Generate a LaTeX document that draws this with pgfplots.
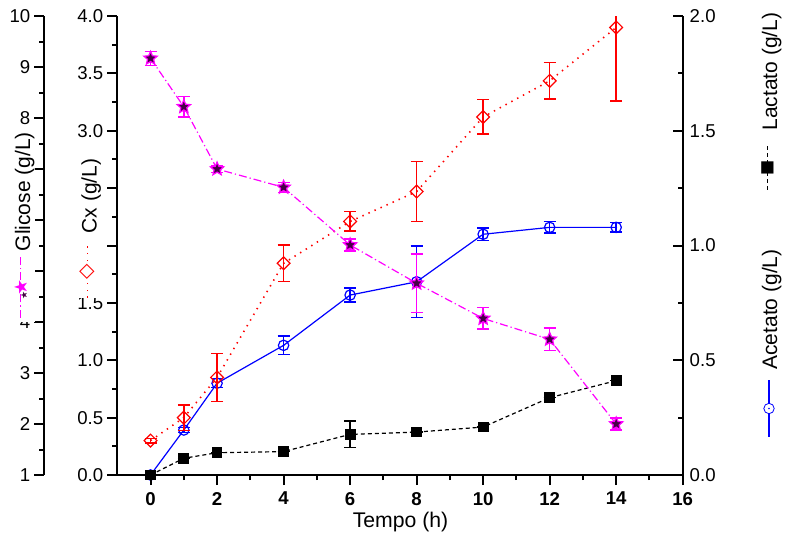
\documentclass[border=0pt]{standalone}
\usepackage{fontspec}
\setmainfont{Liberation Sans}
\newfontfamily\dejavu{DejaVu Sans}
\usepackage{pgfplots}
\pgfplotsset{compat=1.18}
\usepackage{pgfplotstable}

\definecolor{mag}{RGB}{255,0,255}
\definecolor{starfill}{RGB}{70,0,70}

\pgfdeclareplotmark{fstar}{%
  \pgfpathmoveto{\pgfpointpolar{90}{\pgfplotmarksize}}%
  \pgfpathlineto{\pgfpointpolar{126}{0.45\pgfplotmarksize}}%
  \pgfpathlineto{\pgfpointpolar{162}{\pgfplotmarksize}}%
  \pgfpathlineto{\pgfpointpolar{198}{0.45\pgfplotmarksize}}%
  \pgfpathlineto{\pgfpointpolar{234}{\pgfplotmarksize}}%
  \pgfpathlineto{\pgfpointpolar{270}{0.45\pgfplotmarksize}}%
  \pgfpathlineto{\pgfpointpolar{306}{\pgfplotmarksize}}%
  \pgfpathlineto{\pgfpointpolar{342}{0.45\pgfplotmarksize}}%
  \pgfpathlineto{\pgfpointpolar{18}{\pgfplotmarksize}}%
  \pgfpathlineto{\pgfpointpolar{54}{0.45\pgfplotmarksize}}%
  \pgfpathclose
  \pgfusepathqfillstroke}
\pgfdeclareplotmark{codot}{%
  \pgfpathcircle{\pgfpointorigin}{\pgfplotmarksize}\pgfusepathqstroke
  \pgfpathcircle{\pgfpointorigin}{0.18\pgfplotmarksize}\pgfusepathqfill}
\pgfdeclareplotmark{rdiam}{%
  \pgfpathmoveto{\pgfqpoint{0pt}{\pgfplotmarksize}}%
  \pgfpathlineto{\pgfqpoint{\pgfplotmarksize}{0pt}}%
  \pgfpathlineto{\pgfqpoint{0pt}{-\pgfplotmarksize}}%
  \pgfpathlineto{\pgfqpoint{-\pgfplotmarksize}{0pt}}%
  \pgfpathclose\pgfusepathqstroke}

\pgfplotstableread{
t v e
0 9.17 0.14
1 8.22 0.20
2 7.00 0.07
4 6.64 0.10
6 5.51 0.12
8 4.76 0.57
10 4.07 0.21
12 3.66 0.22
14 2.00 0.12
}\glic
\pgfplotstableread{
t v e
0 0.30 0.02
1 0.50 0.11
2 0.85 0.21
4 1.845 0.16
6 2.21 0.085
8 2.47 0.26
10 3.12 0.15
12 3.435 0.16
14 3.90 0.64
}\cx
\pgfplotstableread{
t v e
0 0.000 0.0
1 0.196 0.01
2 0.400 0.02
4 0.565 0.04
6 0.784 0.03
8 0.842 0.155
10 1.049 0.028
12 1.079 0.025
14 1.079 0.02
}\acet
\pgfplotstableread{
t v e
0 0.000 0.0
1 0.073 0.0
2 0.097 0.0
4 0.102 0.0
6 0.177 0.058
8 0.187 0.0
10 0.209 0.0
12 0.337 0.0
14 0.411 0.0
}\lact

\pgfplotsset{
  base/.style={
    scale only axis, height=229.5bp, anchor=south west,
    axis line style={line width=1bp},
    tick style={line width=1bp, black},
    major tick length=5bp, minor tick length=2.5bp,
    tick align=outside,
    ticklabel style={font=\fontsize{9.3bp}{11bp}\selectfont},
    /pgf/number format/assume math mode=true,
    error bars/error bar style={line width=0.7bp, solid},
    error bars/error mark options={rotate=90, mark size=3bp, line width=0.7bp, solid},
  },
  onedec/.style={yticklabel style={/pgf/number format/fixed, /pgf/number format/fixed zerofill, /pgf/number format/precision=1}},
}

% key pieces set as text inside the rotated axis titles
\newcommand{\kd}[2]{\rule[4.3bp]{#1}{#2}}
\newcommand{\km}[2]{\makebox[#1]{\raisebox{2bp}{$\vcenter{\hbox{#2}}$}}}
\newcommand{\keyglic}{\textcolor{mag}{\kd{4bp}{0.6bp}\hspace{1.5bp}\kd{0.6bp}{0.6bp}\hspace{1.5bp}\kd{4bp}{0.6bp}%
  \km{7bp}{\dejavu\fontsize{9bp}{9bp}\selectfont\rlap{★}\hbox to 0pt{\hss\textcolor{starfill}{\fontsize{4.5bp}{4.5bp}\selectfont ★}\hss}\phantom{★}}%
  \kd{4bp}{0.6bp}\hspace{1.5bp}\kd{0.6bp}{0.6bp}\hspace{1.5bp}\kd{4bp}{0.6bp}}}
\newcommand{\keycx}{\textcolor{red}{\kd{0.7bp}{0.8bp}\hspace{2.6bp}\kd{0.7bp}{0.8bp}\hspace{2.6bp}\kd{0.7bp}{0.8bp}\hspace{2.3bp}%
  \km{6.4bp}{\dejavu\fontsize{10bp}{10bp}\selectfont ◇}%
  \hspace{2.3bp}\kd{0.7bp}{0.8bp}\hspace{2.6bp}\kd{0.7bp}{0.8bp}\hspace{2.6bp}\kd{0.7bp}{0.8bp}}}
\newcommand{\keylact}{\kd{2bp}{0.6bp}\hspace{1.5bp}\kd{2bp}{0.6bp}\hspace{1.5bp}\kd{1.3bp}{0.6bp}\hspace{0.3bp}%
  \km{4.8bp}{\dejavu\fontsize{8bp}{8bp}\selectfont ■}%
  \hspace{0.3bp}\kd{1.3bp}{0.6bp}\hspace{1.5bp}\kd{2bp}{0.6bp}\hspace{1.5bp}\kd{2bp}{0.6bp}}

\begin{document}
\begin{tikzpicture}
\useasboundingbox (0,0) rectangle (393bp,-274bp);

% right axis: Lactato / Acetato
\begin{axis}[base, onedec, at={(58.65bp,-237.5bp)}, width=282.7bp,
  xmin=-1, xmax=16, ymin=0, ymax=2, hide x axis, axis y line*=right,
  tick align=inside, ytick={0,0.5,1,1.5,2}, minor y tick num=1]
\addplot[blue, line width=0.6bp, mark=codot, mark size=2.6bp,
  mark options={solid, fill=blue},
  error bars/.cd, y dir=both, y explicit] table[x=t, y=v, y error=e] {\acet};
\addplot[black, line width=0.6bp, dash pattern=on 2bp off 1.5bp, mark=square*, mark size=2.4bp,
  mark options={solid},
  error bars/.cd, y dir=both, y explicit] table[x=t, y=v, y error=e] {\lact};
\end{axis}

% main axis: Cx
\begin{axis}[base, onedec, at={(58.65bp,-237.5bp)}, width=282.7bp,
  xmin=-1, xmax=16, ymin=0, ymax=4, axis x line*=bottom, axis y line*=left,
  xtick={0,2,...,16}, minor x tick num=1,
  ytick={0,0.5,1,1.5,2,2.5,3,3.5,4}, minor y tick num=1,
  yticklabel style={xshift=1.5bp},
  xticklabel style={font=\bfseries\fontsize{9.3bp}{11bp}\selectfont}]
\addplot[red, line width=0.8bp, dash pattern=on 0.7bp off 2.6bp, mark=rdiam, mark size=3.2bp,
  mark options={solid, line width=0.6bp},
  error bars/.cd, y dir=both, y explicit] table[x=t, y=v, y error=e] {\cx};
\end{axis}

% Glicose axis
\begin{axis}[base, at={(22.15bp,-237.5bp)}, width=319.2bp,
  xmin=-3.195, xmax=16, ymin=1, ymax=10, hide x axis, axis y line*=left,
  yticklabel style={xshift=1.5bp},
  ytick={1,...,10}, minor y tick num=1]
\addplot[mag, line width=0.6bp, dash pattern=on 4bp off 1.5bp on 0.6bp off 1.5bp,
  mark=fstar, mark size=3.5bp, mark options={solid, draw=mag, fill=starfill, line width=0.6bp},
  error bars/.cd, y dir=both, y explicit] table[x=t, y=v, y error=e] {\glic};
\end{axis}

% axis titles with their series keys (white boxes hide the tick labels behind them, as in the original)
\node[rotate=90, anchor=base west, fill=white, inner xsep=2bp, inner ysep=0.3bp,
  font=\fontsize{10.5bp}{12bp}\selectfont] at (15bp,-161bp)
  {\keyglic\hspace{3bp}Glicose (g/L)\hspace{6bp}};
\node[rotate=90, anchor=base west, fill=white, inner xsep=0bp, inner ysep=2.5bp,
  font=\fontsize{10.5bp}{12bp}\selectfont] at (48.35bp,-149bp)
  {\keycx\hspace{6.5bp}Cx (g/L)\hspace{6bp}};
\node[rotate=90, anchor=base west, inner sep=0bp,
  font=\fontsize{10.5bp}{12bp}\selectfont] at (388.5bp,-95bp) {\keylact\hspace{7.5bp}Lactato (g/L)};
\node[rotate=90, anchor=base west, inner sep=0bp,
  font=\fontsize{10.5bp}{12bp}\selectfont] at (388.5bp,-185bp) {Acetato (g/L)};
\node[anchor=base, font=\fontsize{10.6bp}{12bp}\selectfont] at (200.25bp,-263.5bp) {Tempo (h)};

% Acetato key
\path[blue] plot[mark=codot, mark size=2.6bp, mark options={fill=blue}] coordinates {(384.5bp,-204.25bp)};
\draw[blue, line width=0.6bp] (384.5bp,-190bp)--(384.5bp,-201.6bp);
\draw[blue, line width=0.6bp] (384.5bp,-206.9bp)--(384.5bp,-218.5bp);
\end{tikzpicture}
\end{document}
